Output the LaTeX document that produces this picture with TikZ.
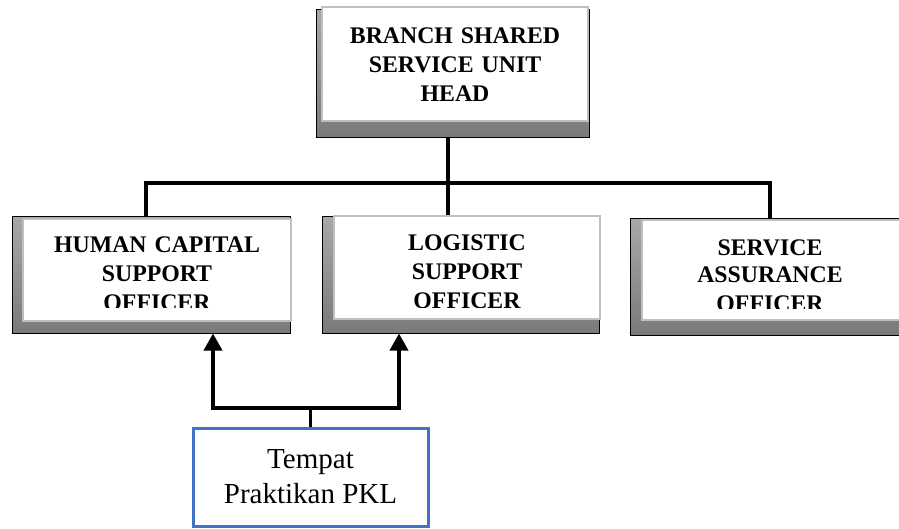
\documentclass[tikz,border=0pt]{standalone}
\usepackage{fontspec}
\setmainfont{Liberation Serif}
\usetikzlibrary{arrows.meta}
\definecolor{shadetop}{HTML}{A8A8A8}
\definecolor{shadebot}{HTML}{7A7A7A}
\definecolor{rimgray}{HTML}{BFBFBF}
\definecolor{pklblue}{HTML}{4472C4}
\pgfdeclarelayer{wires}
\pgfdeclarelayer{shade}
\pgfsetlayers{wires,shade,main}

\begin{document}
\begin{tikzpicture}[x=1pt,y=-1pt,
  panel/.style={draw=rimgray, line width=2.2pt, fill=white, inner sep=0pt},
  shadowbox/.style={draw=black, line width=1pt, top color=shadetop, bottom color=shadebot, inner sep=0pt},
  title/.style={text width=270pt, align=center, inner sep=0pt, anchor=base,
    font=\fontsize{23.8}{29}\selectfont\bfseries},
  pklbox/.style={draw=pklblue, line width=3pt, fill=white, align=center, inner sep=0pt,
    font=\fontsize{29}{35}\selectfont},
  wire/.style={draw=black, line width=3.5pt, line join=miter},
  feed/.style={wire, -{Triangle[width=18pt,length=17pt]}}]

\path[use as bounding box] (0,0) rectangle (899,529);

% white panels
\node[panel, minimum width=266pt, minimum height=114pt] (head) at (455,64) {};
\node[panel, minimum width=268pt, minimum height=102pt] (hc) at (157,270) {};
\node[panel, minimum width=266pt, minimum height=103pt] (ls) at (467,267.5) {};
\node[panel, minimum width=262pt, minimum height=100pt] (sa) at (773,270) {};

% dropped shadows behind the panels
\begin{pgfonlayer}{shade}
\node[shadowbox, minimum width=273pt, minimum height=128pt] (head-shadow) at (452.5,74) {};
\node[shadowbox, minimum width=278pt, minimum height=116pt] (hc-shadow) at (151,275) {};
\node[shadowbox, minimum width=277pt, minimum height=116pt] (ls-shadow) at (460.5,275) {};
\node[shadowbox, minimum width=273pt, minimum height=116pt] (sa-shadow) at (766.5,277) {};
\end{pgfonlayer}

% panel captions
\node[title] (head-text) at (455,44) {BRANCH SHARED\\SERVICE UNIT\\HEAD};
\begin{scope}
  \clip (hc.north west) rectangle (291,307);
  \node[title] (hc-text) at (157,252.5) {HUMAN CAPITAL\\SUPPORT\\OFFICER};
\end{scope}
\begin{scope}
  \clip (ls.north west) rectangle (600,307);
  \node[title] (ls-text) at (467,250.5) {LOGISTIC\\SUPPORT\\OFFICER};
\end{scope}
\begin{scope}
  \clip (sa.north west) rectangle (899,308);
  \node[title, font=\fontsize{23.8}{28}\selectfont\bfseries] (sa-text) at (770,255) {SERVICE\\ASSURANCE\\OFFICER};
\end{scope}

% internship place
\node[pklbox, minimum width=235pt, minimum height=98pt] (pkl) at (310.5,477) {Tempat\\Praktikan PKL};

% organisation lines
\coordinate (bus-l) at (146,183);
\coordinate (bus-m) at (448,183);
\coordinate (bus-r) at (770,183);
\begin{pgfonlayer}{wires}
\draw[wire] (head-shadow.south -| bus-m) -- (ls.north -| bus-m);
\draw[wire] (hc.north -| bus-l) -- (bus-l) -- (bus-r) -- (sa.north -| bus-r);
\end{pgfonlayer}

% arrows from the internship place
\coordinate (fork) at (310.5,408);
\coordinate (fork-l) at (213,408);
\coordinate (fork-r) at (399,408);
\draw[wire] (pkl.north) -- (fork);
\draw[feed] (fork) -- (fork-l) -- (hc-shadow.south -| fork-l);
\draw[feed] (fork) -- (fork-r) -- (ls-shadow.south -| fork-r);
\end{tikzpicture}
\end{document}
